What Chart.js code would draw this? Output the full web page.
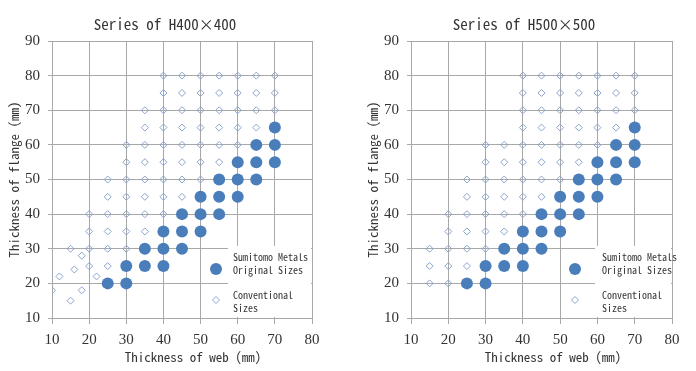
<!DOCTYPE html>
<html>
<head>
<meta charset="utf-8">
<script src="https://cdn.jsdelivr.net/npm/chart.js@4/dist/chart.umd.min.js"></script>
<style>
  html, body { margin: 0; padding: 0; background: #fff; }
  .wrap { display: flex; width: 696px; height: 371px; }
  canvas { display: block; }
</style>
</head>
<body>
<div class="wrap">
  <canvas id="chart400" width="348" height="371"></canvas>
  <canvas id="chart500" width="348" height="371"></canvas>
</div>
<script>
"use strict";

const webTicks = [10, 20, 30, 40, 50, 60, 70, 80];
const flangeTicks = [10, 20, 30, 40, 50, 60, 70, 80, 90];

// Sumitomo Metals original sizes (same in both series)
const sumitomoWeb    = [25, 30, 30, 35, 40, 35, 40, 45, 40, 45, 50, 45, 50, 55, 50, 55, 60, 55, 60, 65, 60, 65, 70, 65, 70, 70];
const sumitomoFlange = [20, 20, 25, 25, 25, 30, 30, 30, 35, 35, 35, 40, 40, 40, 45, 45, 45, 50, 50, 50, 55, 55, 55, 60, 60, 65];

// conventional sizes, H400x400
const convWeb400 = [
  40, 45, 50, 55, 60, 65, 70,
  40, 45, 50, 55, 60, 65, 70,
  35, 40, 45, 50, 55, 60, 65, 70,
  35, 40, 45, 50, 55, 60, 65,
  30, 35, 40, 45, 50, 55, 60,
  30, 35, 40, 45, 50, 55,
  25, 30, 35, 40, 45, 50,
  25, 30, 35, 40, 45,
  20, 25, 30, 35, 40,
  20, 25, 30, 35,
  15, 20, 25, 30,
  20, 25,
  10, 12, 15, 16, 18, 18, 22
];
const convFlange400 = [
  80, 80, 80, 80, 80, 80, 80,
  75, 75, 75, 75, 75, 75, 75,
  70, 70, 70, 70, 70, 70, 70, 70,
  65, 65, 65, 65, 65, 65, 65,
  60, 60, 60, 60, 60, 60, 60,
  55, 55, 55, 55, 55, 55,
  50, 50, 50, 50, 50, 50,
  45, 45, 45, 45, 45,
  40, 40, 40, 40, 40,
  35, 35, 35, 35,
  30, 30, 30, 30,
  25, 25,
  18, 22, 15, 24, 18, 28, 22
];

// conventional sizes, H500x500
const convWeb500 = [
  40, 45, 50, 55, 60, 65, 70,
  40, 45, 50, 55, 60, 65, 70,
  40, 45, 50, 55, 60, 65, 70,
  40, 45, 50, 55, 60, 65,
  30, 35, 40, 45, 50, 55, 60,
  30, 35, 40, 45, 50, 55,
  25, 30, 35, 40, 45, 50,
  25, 30, 35, 40, 45,
  20, 25, 30, 35, 40,
  20, 25, 30, 35,
  15, 20, 25, 30,
  15, 20, 25,
  15, 20
];
const convFlange500 = [
  80, 80, 80, 80, 80, 80, 80,
  75, 75, 75, 75, 75, 75, 75,
  70, 70, 70, 70, 70, 70, 70,
  65, 65, 65, 65, 65, 65,
  60, 60, 60, 60, 60, 60, 60,
  55, 55, 55, 55, 55, 55,
  50, 50, 50, 50, 50, 50,
  45, 45, 45, 45, 45,
  40, 40, 40, 40, 40,
  35, 35, 35, 35,
  30, 30, 30, 30,
  25, 25, 25,
  20, 20
];

const legendLabels = [["Sumitomo Metals", "Original Sizes"], ["Conventional", "Sizes"]];

const MONO = '"Noto Sans Mono CJK SC", "Liberation Mono", monospace';
const SERIF = '"Liberation Serif", "DejaVu Serif", serif';
const gridColor = '#a8a8a8';
const circleColor = '#4a7ebb';
const diamondColor = '#8aa3cf';

function toPoints(xs, ys) {
  return xs.map((x, i) => ({ x: x, y: ys[i] }));
}

// title, x-axis title and the legend box drawn on top
const decor = {
  id: 'decor',
  afterDatasetsDraw(chart, args, opts) {
    const ctx = chart.ctx;
    const area = chart.chartArea;
    ctx.save();
    ctx.fillStyle = '#333';
    ctx.textAlign = 'center';
    ctx.textBaseline = 'middle';
    ctx.font = '15px ' + MONO;
    ctx.fillText(opts.title, opts.titleX, 24);
    ctx.font = '13px ' + MONO;
    ctx.fillText(opts.xTitle, opts.xTitleX, 357);

    // legend
    ctx.fillStyle = '#fff';
    ctx.fillRect(area.right - opts.boxLeft, 246, opts.boxLeft - 1, area.bottom - 247);
    const mx = area.right - opts.markerX;
    ctx.fillStyle = circleColor;
    ctx.beginPath();
    ctx.arc(mx, 269, 6, 0, Math.PI * 2);
    ctx.fill();
    ctx.strokeStyle = diamondColor;
    ctx.lineWidth = 1;
    ctx.beginPath();
    ctx.moveTo(mx - 3.5, 300);
    ctx.lineTo(mx, 296.5);
    ctx.lineTo(mx + 3.5, 300);
    ctx.lineTo(mx, 303.5);
    ctx.closePath();
    ctx.stroke();

    ctx.fillStyle = '#333';
    ctx.textAlign = 'left';
    ctx.font = '10px ' + MONO;
    const tx = area.right - opts.textX;
    ctx.fillText(legendLabels[0][0], tx, 257);
    ctx.fillText(legendLabels[0][1], tx, 270);
    ctx.fillText(legendLabels[1][0], tx, 295);
    ctx.fillText(legendLabels[1][1], tx, 308);
    ctx.restore();
  }
};

function makeChart(id, title, convWeb, convFlange, lay) {
  return new Chart(document.getElementById(id), {
    type: 'scatter',
    data: {
      datasets: [{
        label: legendLabels[0].join(' '),
        data: toPoints(sumitomoWeb, sumitomoFlange),
        pointStyle: 'circle',
        pointRadius: 6,
        pointHoverRadius: 6,
        backgroundColor: circleColor,
        borderColor: circleColor,
        borderWidth: 0
      }, {
        label: legendLabels[1].join(' '),
        data: toPoints(convWeb, convFlange),
        pointStyle: 'rectRot',
        pointRadius: 3.5,
        pointHoverRadius: 3.5,
        backgroundColor: 'rgba(255,255,255,0)',
        borderColor: diamondColor,
        borderWidth: 1
      }]
    },
    options: {
      responsive: false,
      animation: false,
      devicePixelRatio: 1,
      layout: { padding: { left: 0, right: lay.padRight, top: 41, bottom: 0 } },
      plugins: {
        legend: { display: false },
        tooltip: { enabled: false },
        decor: {
          title: title,
          titleX: lay.titleX,
          xTitle: 'Thickness of web (mm)',
          xTitleX: lay.xTitleX,
          boxLeft: lay.boxLeft,
          markerX: lay.markerX,
          textX: lay.textX
        }
      },
      scales: {
        x: {
          type: 'linear',
          min: webTicks[0],
          max: webTicks[webTicks.length - 1],
          afterBuildTicks: s => { s.ticks = webTicks.map(v => ({ value: v })); },
          afterFit: s => { s.height = 53; },
          grid: { color: gridColor, lineWidth: 1, tickLength: 6 },
          border: { color: gridColor },
          ticks: { padding: 7, color: '#333', font: { family: SERIF, size: 15 } }
        },
        y: {
          type: 'linear',
          min: flangeTicks[0],
          max: flangeTicks[flangeTicks.length - 1],
          afterBuildTicks: s => { s.ticks = flangeTicks.map(v => ({ value: v })); },
          afterFit: s => { s.width = lay.axisWidth; },
          grid: { color: gridColor, lineWidth: 1, tickLength: 4 },
          border: { color: gridColor },
          ticks: { padding: 8, color: '#333', font: { family: SERIF, size: 15 } },
          title: {
            display: true,
            text: 'Thickness of flange (mm)',
            color: '#333',
            font: { family: MONO, size: 13 },
            padding: { top: lay.yTitlePad, bottom: 0 }
          }
        }
      }
    },
    plugins: [decor]
  });
}

makeChart('chart400', 'Series of H400\u00d7400', convWeb400, convFlange400,
  { axisWidth: 52, padRight: 36, titleX: 165, xTitleX: 193, boxLeft: 84, markerX: 96, textX: 79, yTitlePad: 6 });
makeChart('chart500', 'Series of H500\u00d7500', convWeb500, convFlange500,
  { axisWidth: 63, padRight: 24, titleX: 176, xTitleX: 205, boxLeft: 77, markerX: 97, textX: 70, yTitlePad: 17 });
</script>
</body>
</html>
